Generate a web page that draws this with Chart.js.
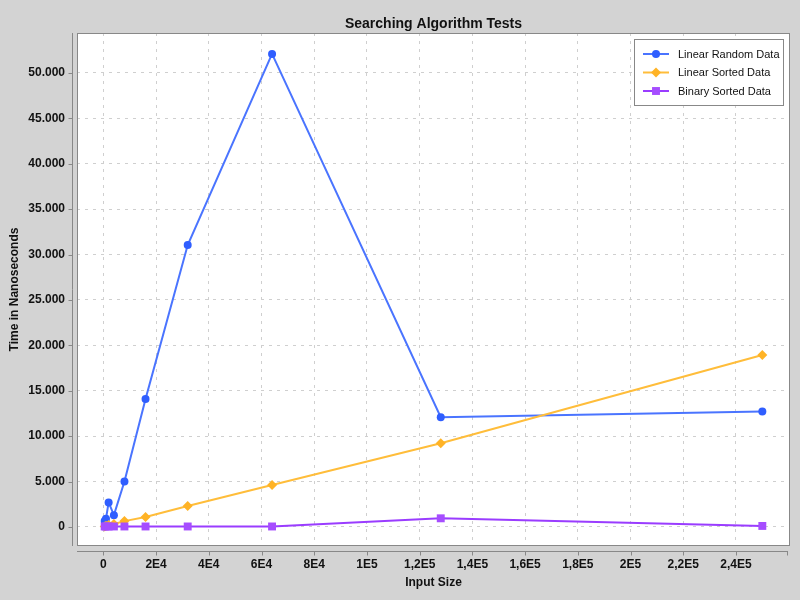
<!DOCTYPE html>
<html>
<head>
<meta charset="utf-8">
<title>Searching Algorithm Tests</title>
<script src="https://cdn.jsdelivr.net/npm/chart.js@4/dist/chart.umd.min.js"></script>
<style>
  html, body { margin: 0; padding: 0; background: #d3d3d3; }
  #wrap { width: 800px; height: 600px; }
</style>
</head>
<body>
<div id="wrap"><canvas id="grafica" width="800" height="600"></canvas></div>
<script>
/* ============================================================
   DATOS
============================================================ */
const inputSizes     = [500, 1000, 2000, 4000, 8000, 16000, 32000, 64000, 128000, 250000];
const linearRandom   = [650, 900, 2700, 1300, 5000, 14100, 31050, 52100, 12080, 12700];
const linearSorted   = [60, 120, 200, 330, 640, 1100, 2300, 4620, 9220, 18930];
const binarySorted   = [50, 50, 50, 50, 50, 50, 50, 50, 950, 110];
const seriesLabels   = ["Linear Random Data", "Linear Sorted Data", "Binary Sorted Data"];
const xTickValues    = [0, 20000, 40000, 60000, 80000, 100000, 120000, 140000, 160000, 180000, 200000, 220000, 240000];
const yTickValues    = [0, 5000, 10000, 15000, 20000, 25000, 30000, 35000, 40000, 45000, 50000];

const FONT = "'Liberation Sans', Arial, sans-serif";

const puntos = (ys) => inputSizes.map((x, i) => ({ x: x, y: ys[i] }));

// 0 -> "0", 120000 -> "1,2E5"
function formatoE(v) {
    if (v === 0) return "0";
    const e = Math.floor(Math.log10(v));
    const m = Math.round(v / Math.pow(10, e) * 10) / 10;
    return String(m).replace(".", ",") + "E" + e;
}
// 50000 -> "50.000"
const formatoMiles = (v) => String(v).replace(/\B(?=(\d{3})+(?!\d))/g, ".");

/* ============================================================
   PLUGIN: fondo, marco, ejes separados, leyenda, titulo
============================================================ */
const estiloJFree = {
    id: "estiloJFree",
    beforeDraw(chart) {
        const { ctx, chartArea: a } = chart;
        ctx.save();
        ctx.fillStyle = "#d3d3d3";
        ctx.fillRect(0, 0, chart.width, chart.height);
        ctx.fillStyle = "#ffffff";
        ctx.fillRect(a.left, a.top, a.right - a.left, a.bottom - a.top);
        ctx.restore();
    },
    afterDraw(chart) {
        const { ctx, chartArea: a, scales } = chart;
        ctx.save();
        ctx.setLineDash([]);

        // marco del area de trazado
        ctx.strokeStyle = "#888888";
        ctx.lineWidth = 1;
        ctx.strokeRect(a.left + 0.5, a.top + 0.5, a.right - a.left - 1, a.bottom - a.top - 1);

        // eje Y desplazado
        const yx = a.left - 5 + 0.5;
        ctx.beginPath();
        ctx.moveTo(yx, a.top);
        ctx.lineTo(yx, a.bottom);
        yTickValues.forEach(v => {
            const py = Math.round(scales.y.getPixelForValue(v)) + 0.5;
            ctx.moveTo(yx - 4, py);
            ctx.lineTo(yx, py);
        });
        // eje X desplazado
        const xy = a.bottom + 5 + 0.5;
        ctx.moveTo(a.left, xy);
        ctx.lineTo(a.right - 2, xy);
        xTickValues.forEach(v => {
            const px = Math.round(scales.x.getPixelForValue(v)) + 0.5;
            ctx.moveTo(px, xy);
            ctx.lineTo(px, xy + 4);
        });
        ctx.moveTo(a.right - 2.5, xy);
        ctx.lineTo(a.right - 2.5, xy + 4);
        ctx.stroke();

        // titulo
        ctx.fillStyle = "#111111";
        ctx.font = "bold 14px " + FONT;
        ctx.textAlign = "center";
        ctx.textBaseline = "alphabetic";
        ctx.fillText("Searching Algorithm Tests", (a.left + a.right) / 2, 28);

        // leyenda
        const lx = 634, ly = 39, lw = 150, lh = 67;
        ctx.fillStyle = "#ffffff";
        ctx.fillRect(lx, ly, lw, lh);
        ctx.strokeStyle = "#888888";
        ctx.lineWidth = 1;
        ctx.strokeRect(lx + 0.5, ly + 0.5, lw - 1, lh - 1);
        const filas = [54, 72.5, 91];
        chart.data.datasets.forEach((ds, i) => {
            const y = filas[i];
            ctx.strokeStyle = ds.borderColor;
            ctx.lineWidth = 2;
            ctx.beginPath();
            ctx.moveTo(643, y);
            ctx.lineTo(669, y);
            ctx.stroke();
            ctx.fillStyle = ds.pointBackgroundColor;
            Chart.helpers.drawPoint(ctx, {
                pointStyle: ds.pointStyle,
                radius: ds.pointRadius,
                borderWidth: 0,
                rotation: 0
            }, 656, y);
        });
        ctx.font = "11px " + FONT;
        ctx.textAlign = "left";
        ctx.textBaseline = "middle";
        ctx.fillStyle = "#111111";
        chart.data.datasets.forEach((ds, i) => {
            ctx.fillText(ds.label, 678, filas[i] + 0.5);
        });

        ctx.restore();
    }
};

/* ============================================================
   GRAFICA
============================================================ */
const rejilla = {
    color: "#cfcfcf",
    lineWidth: 1,
    drawTicks: false
};

new Chart(document.getElementById("grafica"), {
    type: "line",
    data: {
        datasets: [
            {
                label: seriesLabels[0],
                data: puntos(linearRandom),
                borderColor: "#4a74ff",
                backgroundColor: "#2f5eff",
                pointBackgroundColor: "#2f5eff",
                pointStyle: "circle",
                pointRadius: 4,
                pointBorderWidth: 0,
                borderWidth: 2,
                order: 3
            },
            {
                label: seriesLabels[1],
                data: puntos(linearSorted),
                borderColor: "#ffbd3a",
                backgroundColor: "#ffb326",
                pointBackgroundColor: "#ffb326",
                pointStyle: "rectRot",
                pointRadius: 5,
                pointBorderWidth: 0,
                borderWidth: 2,
                order: 2
            },
            {
                label: seriesLabels[2],
                data: puntos(binarySorted),
                borderColor: "#9a3cff",
                backgroundColor: "#a64dff",
                pointBackgroundColor: "#a64dff",
                pointStyle: "rect",
                pointRadius: 5.6,
                pointBorderWidth: 0,
                borderWidth: 2,
                order: 1
            }
        ]
    },
    options: {
        responsive: false,
        devicePixelRatio: 1,
        animation: false,
        layout: { padding: { top: 33, right: 10, bottom: 0, left: 0 } },
        plugins: {
            legend: { display: false },
            title: { display: false },
            tooltip: { enabled: false }
        },
        scales: {
            x: {
                type: "linear",
                min: -10000,
                max: 260500,
                afterBuildTicks: (s) => { s.ticks = xTickValues.map(v => ({ value: v })); },
                afterFit: (s) => { s.height = 54; },
                border: { display: false, dash: [3, 5] },
                grid: rejilla,
                ticks: {
                    autoSkip: false,
                    maxRotation: 0,
                    padding: 11,
                    color: "#111111",
                    font: { family: FONT, size: 12, weight: "bold" },
                    callback: (v) => formatoE(v)
                },
                title: {
                    display: true,
                    text: "Input Size",
                    color: "#111111",
                    padding: { top: 0, bottom: 10 },
                    font: { family: FONT, size: 12, weight: "bold" }
                }
            },
            y: {
                type: "linear",
                min: -2100,
                max: 54400,
                afterBuildTicks: (s) => { s.ticks = yTickValues.map(v => ({ value: v })); },
                afterFit: (s) => { s.width = 77; },
                border: { display: false, dash: [3, 5] },
                grid: rejilla,
                ticks: {
                    padding: 12,
                    color: "#111111",
                    font: { family: FONT, size: 12, weight: "bold" },
                    callback: (v) => formatoMiles(v)
                },
                title: {
                    display: true,
                    text: "Time in Nanoseconds",
                    color: "#111111",
                    padding: { top: 7, bottom: 0 },
                    font: { family: FONT, size: 12, weight: "bold" }
                }
            }
        }
    },
    plugins: [estiloJFree]
});
</script>
</body>
</html>
